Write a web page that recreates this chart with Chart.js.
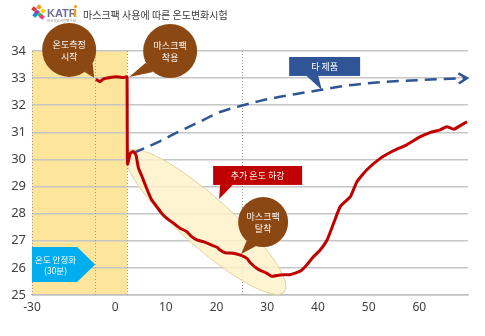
<!DOCTYPE html>
<html>
<head>
<meta charset="utf-8">
<script src="https://cdn.jsdelivr.net/npm/chart.js@4.4.1/dist/chart.umd.min.js"></script>
<style>
  html, body { margin: 0; padding: 0; background: #ffffff; }
  #wrap { width: 485px; height: 336px; }
</style>
</head>
<body>
<div id="wrap"><canvas id="c" width="485" height="336"></canvas></div>
<script>
// Horizontal axis: minutes. The pre-measurement span (-30..0) is compressed,
// so the "-30" tick sits at axis position AXIS_MIN.
const AXIS_MIN = -16.4;
const AXIS_MAX = 69.6;
const xTickPos    = [AXIS_MIN, 0, 10, 20, 30, 40, 50, 60];
const xTickLabels = ['-30', '0', '10', '20', '30', '40', '50', '60'];
const yTicks      = [25, 26, 27, 28, 29, 30, 31, 32, 33, 34];

// Skin temperature with the mask pack (°C)
const maskX = [-3.8, -3.0, -2.4, -1.0, 0.3, 1.6, 2.2, 2.35, 2.45, 3.0, 3.6, 4.1, 4.6, 5.3,
  6.2, 7.2, 8.2, 9.2, 10.2, 11.5, 12.8, 14.1, 15.1, 16.1, 17.4, 18.7, 20.1, 20.7, 21.7,
  23.3, 24.7, 26.0, 26.6, 28.2, 29.9, 30.9, 32.5, 34.5, 36.5, 37.8, 39.1, 40.4, 41.8,
  43.1, 44.4, 46.4, 47.7, 49.6, 52.3, 54.9, 57.5, 60.2, 62.1, 64.1, 65.4, 66.8, 68.0, 69.4];
const maskY = [32.96, 32.87, 32.96, 33.02, 33.05, 33.02, 33.05, 33.03, 29.83, 30.23, 30.29,
  30.17, 29.68, 29.37, 28.94, 28.51, 28.26, 28.01, 27.83, 27.65, 27.46, 27.34, 27.15, 27.03,
  26.97, 26.87, 26.76, 26.66, 26.56, 26.54, 26.47, 26.35, 26.2, 25.95, 25.8, 25.69, 25.74,
  25.75, 25.88, 26.11, 26.41, 26.65, 27.03, 27.65, 28.26, 28.63, 29.18, 29.61, 30.04, 30.32,
  30.54, 30.84, 30.99, 31.09, 31.21, 31.11, 31.24, 31.39];

// Other product (trend, °C)
const otherX = [3.55, 8.9, 12.8, 16.8, 20.7, 24.7, 28.6, 32.5, 36.5, 40.4, 44.4, 52.3, 60.2, 69.2];
const otherY = [30.23, 30.68, 31.05, 31.4, 31.75, 31.97, 32.16, 32.31, 32.44, 32.56, 32.69, 32.85, 32.93, 33.0];

// Phase markers (axis units)
const MEASURE_START = -3.9;
const MASK_ON = 2.4;
const MASK_OFF = 25;

const KR = '"Noto Sans CJK KR", "Noto Sans", sans-serif';
const BROWN = '#8c4813';
const BLUE = '#2f5597';
const RED = '#c00000';

function pts(xs, ys) { return xs.map((x, i) => ({ x: x, y: ys[i] })); }

const bubbles = [
  { lines: ['온도측정', '시작'], cx: -9.07, cy: 34.04, r: 27, tx: -4.14, ty: 33.01 },
  { lines: ['마스크팩', '착용'], cx: 10.85, cy: 34.0, r: 27, tx: 2.76, ty: 33.04 },
  { lines: ['마스크팩', '탈착'], cx: 29.19, cy: 27.69, r: 25, tx: 24.85, ty: 26.51 }
];
const boxes = [
  { text: '타 제품', color: BLUE, x1: 34.32, x2: 48.32, y1: 33.78, y2: 33.08,
    b1: 37.67, b2: 40.04, tx: 40.77, ty: 32.56 },
  { text: '추가 온도 하강', color: RED, x1: 19.33, x2: 36.88, y1: 29.76, y2: 29.06,
    b1: 20.71, b2: 23.27, tx: 20.51, ty: 28.54 }
];

const decor = {
  id: 'decor',
  beforeDraw(chart) {
    const { ctx, chartArea: a, scales: { x } } = chart;
    ctx.save();
    ctx.fillStyle = '#fde59b';
    ctx.fillRect(a.left, a.top, x.getPixelForValue(MASK_ON) - a.left, a.bottom - a.top);
    ctx.restore();
  },
  beforeDatasetsDraw(chart) {
    const { ctx, chartArea: a, scales: { x, y } } = chart;
    ctx.save();
    // dotted phase lines
    ctx.strokeStyle = '#9a9a9a';
    ctx.lineWidth = 1;
    ctx.setLineDash([1, 2]);
    [AXIS_MIN, MEASURE_START, MASK_ON, MASK_OFF].forEach(v => {
      const px = Math.round(x.getPixelForValue(v)) + 0.5;
      ctx.beginPath(); ctx.moveTo(px, a.top); ctx.lineTo(px, a.bottom); ctx.stroke();
    });
    ctx.setLineDash([]);
    // highlight of the additional cooling period
    const x1 = x.getPixelForValue(2.37), y1 = y.getPixelForValue(30.28);
    const x2 = x.getPixelForValue(33.33), y2 = y.getPixelForValue(25.11);
    const cx = (x1 + x2) / 2, cy = (y1 + y2) / 2;
    const ang = Math.atan2(y2 - y1, x2 - x1);
    const semi = Math.hypot(x2 - x1, y2 - y1) / 2;
    ctx.beginPath();
    ctx.ellipse(cx, cy, semi, 25, ang, 0, Math.PI * 2);
    ctx.fillStyle = 'rgba(255, 242, 200, 0.82)';
    ctx.fill();
    ctx.strokeStyle = '#ddd39a';
    ctx.lineWidth = 1;
    ctx.stroke();
    ctx.restore();
  },
  afterDatasetsDraw(chart) {
    const { ctx, chartArea: a, scales: { x, y } } = chart;
    const X = v => x.getPixelForValue(v), Y = v => y.getPixelForValue(v);
    ctx.save();

    // arrow head at the end of the dashed trend
    const meta = chart.getDatasetMeta(1).data;
    const p = meta[meta.length - 1], q = meta[meta.length - 2];
    const ang = Math.atan2(p.y - q.y, p.x - q.x);
    ctx.strokeStyle = BLUE; ctx.lineWidth = 2.5; ctx.lineJoin = 'miter';
    ctx.beginPath();
    ctx.moveTo(p.x - 9 * Math.cos(ang - 0.6), p.y - 9 * Math.sin(ang - 0.6));
    ctx.lineTo(p.x + 1, p.y);
    ctx.lineTo(p.x - 9 * Math.cos(ang + 0.6), p.y - 9 * Math.sin(ang + 0.6));
    ctx.stroke();

    ctx.textAlign = 'center';
    ctx.textBaseline = 'middle';

    // round callouts
    bubbles.forEach(b => {
      const cx = X(b.cx), cy = Y(b.cy), tx = X(b.tx), ty = Y(b.ty);
      const t = Math.atan2(ty - cy, tx - cx);
      ctx.fillStyle = BROWN;
      ctx.beginPath(); ctx.arc(cx, cy, b.r, 0, Math.PI * 2); ctx.fill();
      ctx.beginPath();
      ctx.moveTo(cx + b.r * Math.cos(t - 0.32), cy + b.r * Math.sin(t - 0.32));
      ctx.lineTo(tx, ty);
      ctx.lineTo(cx + b.r * Math.cos(t + 0.12), cy + b.r * Math.sin(t + 0.12));
      ctx.closePath(); ctx.fill();
      ctx.fillStyle = '#ffffff';
      ctx.font = '9px ' + KR;
      ctx.fillText(b.lines[0], cx, cy - 5);
      ctx.fillText(b.lines[1], cx, cy + 7);
    });

    // rectangular callouts
    boxes.forEach(b => {
      ctx.fillStyle = b.color;
      const l = X(b.x1), r = X(b.x2), t = Y(b.y1), bt = Y(b.y2);
      ctx.fillRect(l, t, r - l, bt - t);
      ctx.beginPath();
      ctx.moveTo(X(b.b1), bt - 0.5); ctx.lineTo(X(b.tx), Y(b.ty)); ctx.lineTo(X(b.b2), bt - 0.5);
      ctx.closePath(); ctx.fill();
      ctx.fillStyle = '#ffffff';
      ctx.font = '9px ' + KR;
      ctx.fillText(b.text, (l + r) / 2, (t + bt) / 2);
    });

    // stabilisation period marker
    const pl = X(AXIS_MIN), pb = X(-7.5), pt = X(-3.94), top = Y(26.77), bot = Y(25.48);
    ctx.fillStyle = '#00aeef';
    ctx.beginPath();
    ctx.moveTo(pl, top); ctx.lineTo(pb, top); ctx.lineTo(pt, (top + bot) / 2);
    ctx.lineTo(pb, bot); ctx.lineTo(pl, bot); ctx.closePath(); ctx.fill();
    ctx.fillStyle = '#ffffff';
    ctx.font = '8.5px ' + KR;
    ctx.fillText('온도 안정화', (pl + pb) / 2 + 1, (top + bot) / 2 - 5);
    ctx.fillText('(30분)', (pl + pb) / 2 + 1, (top + bot) / 2 + 6);

    ctx.restore();
  },
  afterDraw(chart) {
    const ctx = chart.ctx;
    ctx.save();
    // logo mark
    const sq = [['#e8312f', 34, 9], ['#f59a23', 39, 7], ['#ffd200', 43, 11], ['#46b649', 40, 15],
                ['#1e88e5', 35, 15], ['#8e44ad', 37, 12], ['#ec407a', 42, 17]];
    sq.forEach(s => {
      ctx.save();
      ctx.translate(s[1], s[2]); ctx.rotate(0.6);
      ctx.fillStyle = s[0]; ctx.fillRect(-2, -2, 4, 4);
      ctx.restore();
    });
    ctx.textAlign = 'left';
    ctx.textBaseline = 'alphabetic';
    ctx.fillStyle = '#6b6f98';
    ctx.font = 'bold 11px "Liberation Sans", sans-serif';
    ctx.fillText('KATR', 47, 17);
    ctx.fillStyle = '#f39c12';
    ctx.fillRect(74, 9, 2.2, 8);
    ctx.beginPath(); ctx.arc(75.5, 6.5, 1.5, 0, Math.PI * 2); ctx.fill();
    ctx.fillStyle = '#888888';
    ctx.font = '3.5px ' + KR;
    ctx.fillText('한국의류시험연구원', 47, 22);
    // title
    ctx.fillStyle = '#3a3a3a';
    ctx.font = '10px ' + KR;
    ctx.textBaseline = 'middle';
    ctx.fillText('마스크팩 사용에 따른 온도변화시험', 83, 15);
    ctx.restore();
  }
};

new Chart(document.getElementById('c'), {
  type: 'line',
  data: {
    datasets: [
      { label: '마스크팩', data: pts(maskX, maskY), borderColor: RED, borderWidth: 3,
        pointRadius: 0, tension: 0.15, order: 1, borderJoinStyle: 'round' },
      { label: '타 제품', data: pts(otherX, otherY), borderColor: BLUE, borderWidth: 2.5,
        borderDash: [12, 7], pointRadius: 0, cubicInterpolationMode: 'monotone', order: 2 }
    ]
  },
  options: {
    responsive: false,
    animation: false,
    devicePixelRatio: 1,
    layout: { padding: { left: 0, right: 17, top: 51, bottom: 0 } },
    plugins: { legend: { display: false }, tooltip: { enabled: false }, title: { display: false } },
    scales: {
      x: {
        type: 'linear', min: AXIS_MIN, max: AXIS_MAX,
        afterFit: s => { s.height = 41; },
        afterBuildTicks: s => { s.ticks = xTickPos.map(v => ({ value: v })); },
        ticks: {
          autoSkip: false, maxRotation: 0, padding: 5, color: '#404040',
          font: { family: '"Noto Sans", sans-serif', size: 12 },
          callback: (v, i) => xTickLabels[i]
        },
        grid: { display: false, drawTicks: false },
        border: { display: true, color: '#bfbfbf', width: 1.5 }
      },
      y: {
        min: 25, max: 34,
        afterFit: s => { s.width = 32; },
        afterBuildTicks: s => { s.ticks = yTicks.map(v => ({ value: v })); },
        ticks: { padding: 6, color: '#404040', font: { family: '"Noto Sans", sans-serif', size: 13 } },
        grid: { color: '#c6c6c6', lineWidth: 1.5, drawTicks: false },
        border: { display: false }
      }
    }
  },
  plugins: [decor]
});
</script>
</body>
</html>
